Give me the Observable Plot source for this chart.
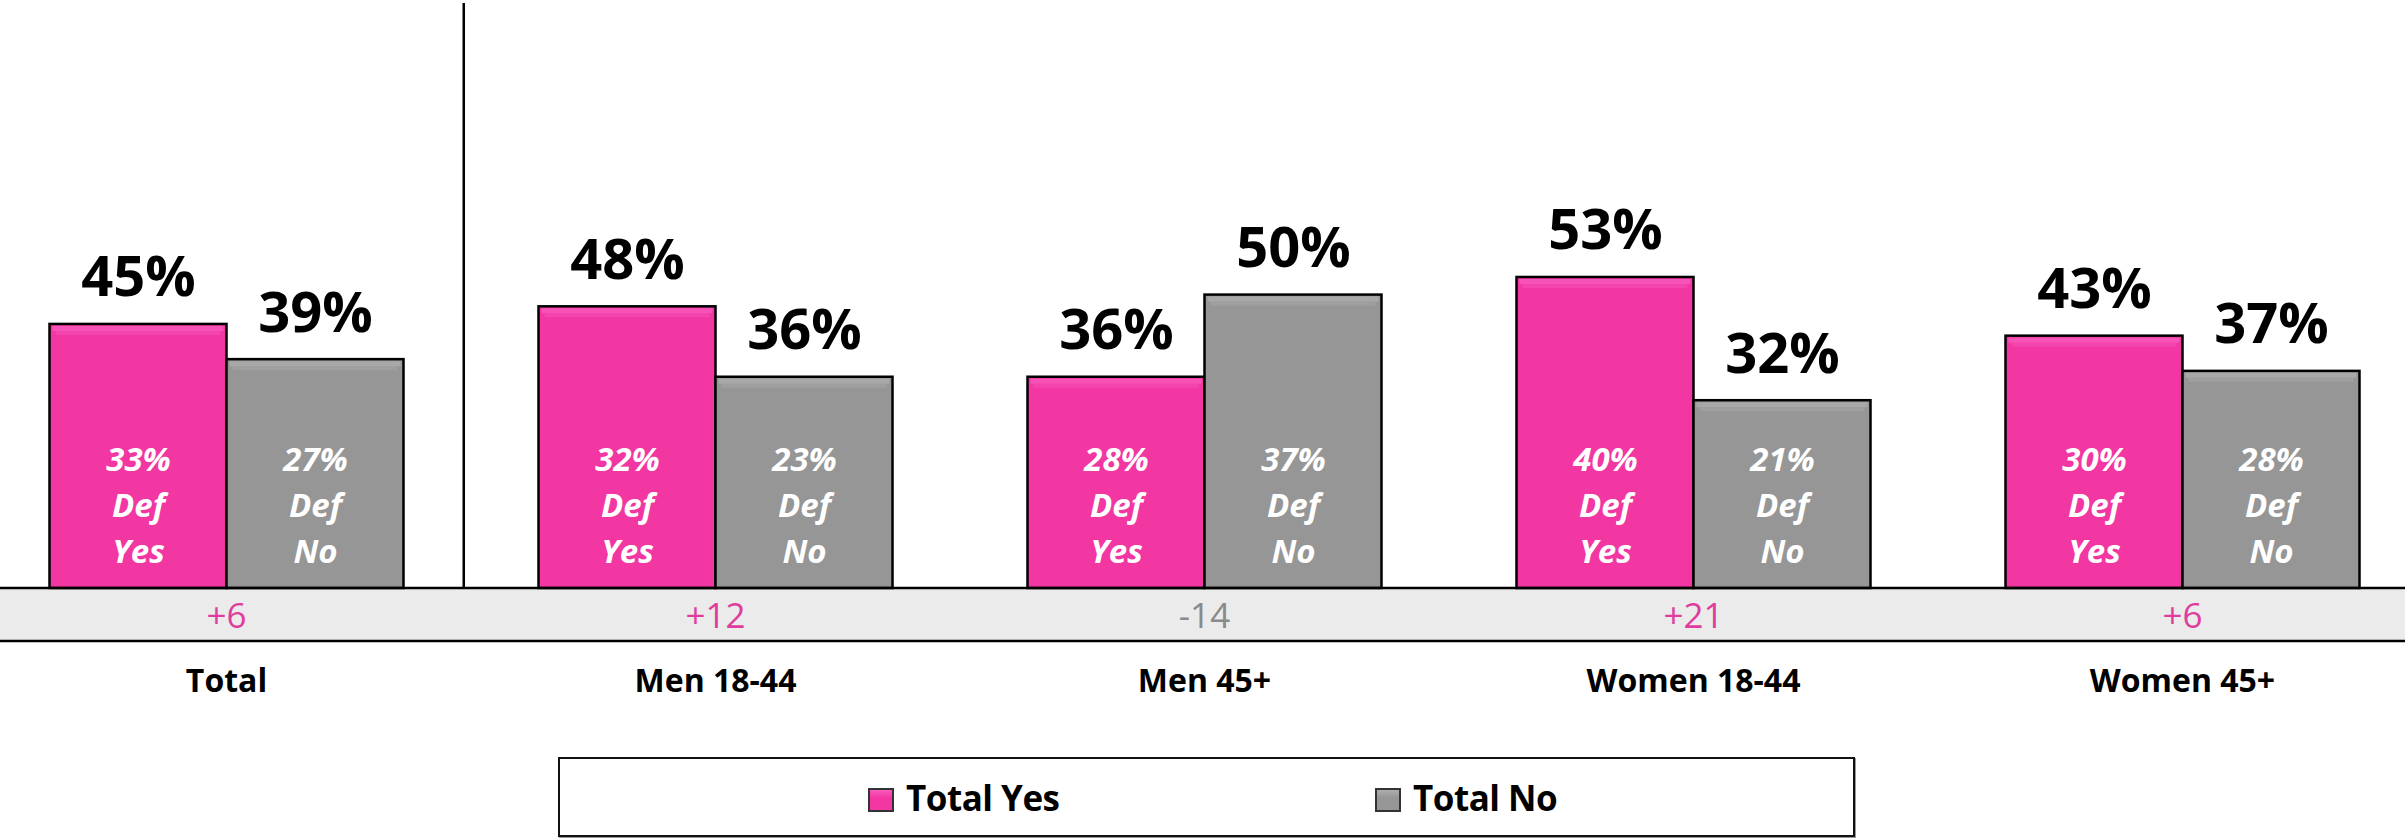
<!DOCTYPE html>
<html>
<head>
<meta charset="utf-8">
<script src="https://cdn.jsdelivr.net/npm/d3@7"></script>
<script src="https://cdn.jsdelivr.net/npm/@observablehq/plot@0.6"></script>
<style>
  html, body { margin: 0; padding: 0; background: #fff; }
  #wrap { position: relative; width: 2405px; height: 839px; overflow: hidden; font-family: "Open Sans", sans-serif; }
  #chart { position: absolute; left: 0; top: 0; }
  #legend { position: absolute; left: 558px; top: 757px; width: 1293px; height: 76px;
            border: 2px solid #111; box-shadow: 1px 1px 0 #999; background: #fff; }
  .item { position: absolute; top: 0; height: 76px; display: flex; align-items: center; }
  .sw { width: 22px; height: 20px; border: 2px solid #333; margin-right: 12px; margin-top: 6px; }
  .lab { font-size: 35px; font-weight: 700; color: #000; letter-spacing: -0.5px; }
</style>
</head>
<body>
<div id="wrap">
  <div id="chart"></div>
  <div id="legend"></div>
</div>
<script>
const groups = ["Total", "Men 18-44", "Men 45+", "Women 18-44", "Women 45+"];
const seriesNames = ["Total Yes", "Total No"];
const totalYes = [45, 48, 36, 53, 43];
const totalNo = [39, 36, 50, 32, 37];
const defYes = [33, 32, 28, 40, 30];
const defNo = [27, 23, 37, 21, 28];
const netDiff = [6, 12, -14, 21, 6];
const defWords = ["Yes", "No"];

const PINK = "#f236a2";
const GREY = "#969696";
const PINK_HI = "#f75bbd";
const GREY_HI = "#adadad";
const DIFF_POS = "#e03c9e";
const DIFF_NEG = "#8a8a8a";

const rows = groups.flatMap((g, i) => [
  {group: g, series: seriesNames[0], value: totalYes[i], def: defYes[i], word: defWords[0]},
  {group: g, series: seriesNames[1], value: totalNo[i], def: defNo[i], word: defWords[1]}
]);
const diffs = groups.map((g, i) => ({group: g, diff: netDiff[i]}));

const plot = Plot.plot({
  width: 2405,
  height: 745,
  marginLeft: 47.5,
  marginRight: 45,
  marginTop: 0,
  marginBottom: 157,
  fx: {domain: groups, paddingInner: 0.276, paddingOuter: 0, axis: null, label: null},
  x: {domain: seriesNames, padding: 0, axis: null},
  y: {domain: [0, 100.2], axis: null},
  color: {domain: seriesNames, range: [PINK, GREY]},
  style: {fontFamily: "'Open Sans', sans-serif", background: "transparent", overflow: "visible"},
  marks: [
    Plot.barY(rows, {fx: "group", x: "series", y: "value", fill: "series", stroke: "#000", strokeWidth: 2.5}),
    Plot.tickY(rows.filter(d => d.series === seriesNames[0]), {fx: "group", x: "series", y: "value", stroke: PINK_HI, strokeWidth: 5, strokeOpacity: 0.8, dy: 4, insetLeft: 3, insetRight: 3}),
    Plot.tickY(rows.filter(d => d.series === seriesNames[0]), {fx: "group", x: "series", y: "value", stroke: PINK_HI, strokeWidth: 4, strokeOpacity: 0.4, dy: 8.5, insetLeft: 6, insetRight: 6}),
    Plot.tickY(rows.filter(d => d.series === seriesNames[1]), {fx: "group", x: "series", y: "value", stroke: GREY_HI, strokeWidth: 5, strokeOpacity: 0.8, dy: 4, insetLeft: 3, insetRight: 3}),
    Plot.tickY(rows.filter(d => d.series === seriesNames[1]), {fx: "group", x: "series", y: "value", stroke: GREY_HI, strokeWidth: 4, strokeOpacity: 0.4, dy: 8.5, insetLeft: 6, insetRight: 6}),
    Plot.text(rows, {fx: "group", x: "series", y: "value", text: d => d.value + "%", lineAnchor: "bottom", dy: -28, fontSize: 56, fontWeight: 700, fill: "#000"}),
    Plot.text(rows, {fx: "group", x: "series", y: () => 0, text: d => d.def + "%\nDef\n" + d.word, lineAnchor: "bottom", dy: -26, lineHeight: 1.39, fontSize: 33, fontWeight: 700, fontStyle: "italic", fill: "#fff"}),
    Plot.text(diffs.filter(d => d.diff > 0), {fx: "group", y: () => 0, text: d => "+" + d.diff, lineAnchor: "middle", dy: 28, fontSize: 35, fill: DIFF_POS}),
    Plot.text(diffs.filter(d => d.diff < 0), {fx: "group", y: () => 0, text: d => "-" + Math.abs(d.diff), lineAnchor: "middle", dy: 28, fontSize: 35, fill: DIFF_NEG}),
    Plot.text(groups, {fx: d => d, y: () => 0, text: d => d, lineAnchor: "middle", dy: 93, fontSize: 32, fontWeight: 700, fill: "#000"})
  ]
});

// Grey band under the baseline, baseline rules and divider, placed with the plot's own scales
const svg = d3.select(plot);
const y0 = plot.scale("y").apply(0);
const bandH = 53;
svg.insert("rect", "g").attr("x", 0).attr("y", y0).attr("width", 2405).attr("height", bandH).attr("fill", "#ebebeb");
svg.append("line").attr("x1", 0).attr("x2", 2405).attr("y1", y0).attr("y2", y0).attr("stroke", "#000").attr("stroke-width", 2.5);
svg.append("line").attr("x1", 0).attr("x2", 2405).attr("y1", y0 + bandH).attr("y2", y0 + bandH).attr("stroke", "#000").attr("stroke-width", 2.5);

let divX = 463;
try {
  const fx = plot.scale("fx");
  const endFirst = fx.apply(groups[0]) + fx.bandwidth;
  const startSecond = fx.apply(groups[1]);
  divX = endFirst + (startSecond - endFirst) * 0.45;
} catch (e) {}
svg.append("line").attr("x1", divX).attr("x2", divX).attr("y1", 3).attr("y2", y0).attr("stroke", "#000").attr("stroke-width", 2.5);

document.getElementById("chart").appendChild(plot);

// Legend
const legend = document.getElementById("legend");
const legendColors = [PINK, GREY];
const legendHi = [PINK_HI, GREY_HI];
const legendLeft = [308, 815];
seriesNames.forEach((s, i) => {
  const item = document.createElement("div");
  item.className = "item";
  item.style.left = legendLeft[i] + "px";
  const sw = document.createElement("div");
  sw.className = "sw";
  sw.style.background = `linear-gradient(180deg, ${legendHi[i]} 0%, ${legendColors[i]} 40%, ${legendColors[i]} 100%)`;
  const lab = document.createElement("div");
  lab.className = "lab";
  lab.textContent = s;
  item.appendChild(sw);
  item.appendChild(lab);
  legend.appendChild(item);
});
</script>
</body>
</html>
